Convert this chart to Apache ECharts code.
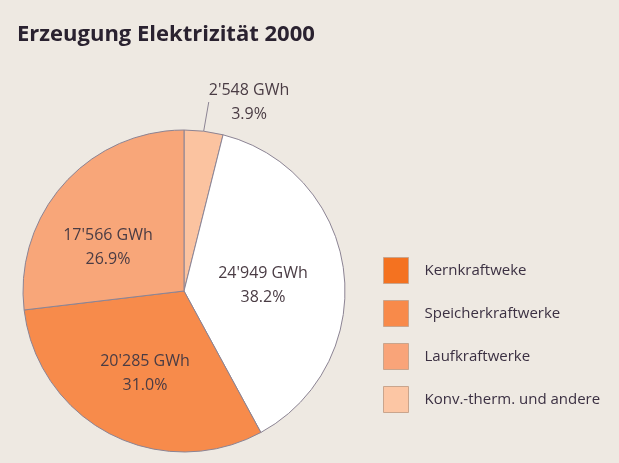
<!DOCTYPE html>
<html>
<head>
<meta charset="utf-8">
<script src="https://cdn.jsdelivr.net/npm/echarts@6/dist/echarts.min.js"></script>
<style>
  html, body { margin: 0; padding: 0; background: #eee9e2; }
  #chart { width: 619px; height: 463px; }
</style>
</head>
<body>
<div id="chart"></div>
<script>
// Daten (Reihenfolge im Kreis: ab 12 Uhr im Uhrzeigersinn)
const sliceNames = ['Konv.-therm. und andere', 'Kernkraftweke', 'Speicherkraftwerke', 'Laufkraftwerke']
const sliceValues = [2548, 24949, 20285, 17566]
const sliceColors = ['#fbc3a0', '#ffffff', '#f78b4b', '#f8a679']
// Legende
const legendNames = ['Kernkraftweke', 'Speicherkraftwerke', 'Laufkraftwerke', 'Konv.-therm. und andere']
const legendColors = ['#f47220', '#f88a4a', '#f9a479', '#fcc6a4']

const chart = echarts.init(document.getElementById('chart'))

const fmtGWh = v => String(v).replace(/\B(?=(\d{3})+(?!\d))/g, '\'') + ' GWh'

// Textpositionen der Beschriftungen
const labelPos = [[249, 102], [263, 285], [145, 373], [108, 247]]

const option = {
  backgroundColor: '#eee9e2',
  animation: false,
  title: {
    text: 'Erzeugung Elektrizität 2000',
    left: 12,
    top: 19,
    textStyle: {
      fontFamily: 'Open Sans',
      fontWeight: 'bold',
      fontSize: 22,
      color: '#2a2230'
    }
  },
  legend: {
    orient: 'vertical',
    left: 378,
    top: 252,
    itemWidth: 25,
    itemHeight: 26,
    itemGap: 16,
    icon: 'rect',
    selectedMode: false,
    itemStyle: { borderColor: '#c9a58d', borderWidth: 1 },
    textStyle: {
      fontFamily: 'Open Sans',
      fontSize: 15,
      color: '#3b3042',
      padding: [0, 0, 0, 11]
    },
    data: legendNames.map((n, i) => ({ name: n, itemStyle: { color: legendColors[i] } }))
  },
  series: [
    {
      type: 'pie',
      center: [184, 291],
      radius: 161,
      startAngle: 90,
      clockwise: true,
      percentPrecision: 1,
      silent: true,
      itemStyle: { borderColor: '#8c8494', borderWidth: 1 },
      label: {
        position: 'inside',
        fontFamily: 'Open Sans',
        fontSize: 16,
        lineHeight: 24,
        color: '#4a3c44',
        formatter: p => fmtGWh(p.value) + '\n' + p.percent.toFixed(1) + '%'
      },
      labelLine: { show: false },
      labelLayout: p => ({
        x: labelPos[p.dataIndex][0],
        y: labelPos[p.dataIndex][1],
        align: 'center',
        verticalAlign: 'middle'
      }),
      data: sliceValues.map((v, i) => {
        const item = { name: sliceNames[i], value: v, itemStyle: { color: sliceColors[i] } }
        if (i === 0) {
          item.label = { position: 'outside' }
          item.labelLine = { show: true, length: 14, length2: 0, lineStyle: { color: '#8c8494', width: 1 } }
        }
        return item
      })
    }
  ]
}

chart.setOption(option)
</script>
</body>
</html>
